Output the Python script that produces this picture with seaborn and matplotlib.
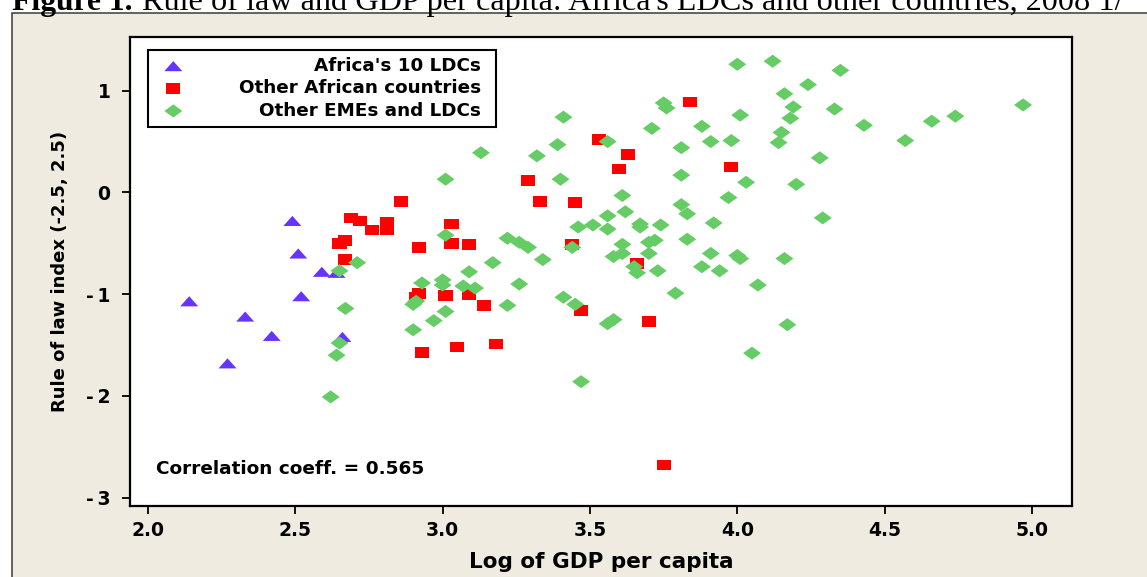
import numpy as np
import pandas as pd
import matplotlib
matplotlib.use("Agg")
import matplotlib.pyplot as plt
from matplotlib.patches import Rectangle
import seaborn as sns

# ---- data: log GDP per capita vs rule-of-law index ----
ldc_x = [2.14, 2.33, 2.42, 2.27, 2.49, 2.51, 2.52, 2.59, 2.64, 2.66]
ldc_y = [-1.07, -1.22, -1.41, -1.68, -0.28, -0.60, -1.02, -0.78, -0.79, -1.42]

afr_x = [2.65, 2.67, 2.67, 2.69, 2.72, 2.76, 2.81, 2.81, 2.86, 2.92, 2.92, 2.91,
         2.93, 3.03, 3.03, 3.09, 3.01, 3.09, 3.14, 3.05, 3.18, 3.29, 3.33, 3.45,
         3.44, 3.47, 3.53, 3.60, 3.63, 3.66, 3.70, 3.84, 3.98, 3.75]
afr_y = [-0.50, -0.47, -0.66, -0.25, -0.28, -0.37, -0.29, -0.37, -0.09, -0.54, -0.99, -1.03,
         -1.57, -0.31, -0.50, -0.51, -1.01, -1.00, -1.11, -1.52, -1.49, 0.12, -0.09, -0.10,
         -0.51, -1.16, 0.52, 0.23, 0.37, -0.70, -1.27, 0.89, 0.25, -2.68]

eme_x = [2.65, 2.71, 2.67, 2.65, 2.64, 2.62,
         3.13, 3.32, 3.01, 3.40, 3.61, 3.01, 3.22, 3.26, 3.29, 3.17, 3.34, 3.09,
         2.93, 3.00, 3.00, 3.07, 3.11, 3.26, 2.90, 2.91, 3.01, 2.97, 2.90, 3.22,
         3.41, 3.45, 3.47, 3.44, 3.46, 3.51, 3.56, 3.56, 3.62, 3.67, 3.67, 3.74,
         3.61, 3.58, 3.61, 3.70, 3.72, 3.70, 3.65, 3.66, 3.73, 3.79, 3.58, 3.56,
         3.75, 3.76, 3.41, 3.71, 3.88, 4.01, 3.91, 3.98, 4.16, 4.19, 4.18, 4.15,
         4.14, 4.24, 4.33, 4.28, 4.20, 4.29, 3.56, 3.39, 3.81, 3.81, 4.03, 3.97,
         3.81, 3.83, 3.92, 3.83, 3.91, 3.88, 3.94, 4.00, 4.01, 4.16, 4.07, 4.17,
         4.05, 4.00, 4.12, 4.35, 4.43, 4.66, 4.74, 4.97, 4.57]
eme_y = [-0.77, -0.69, -1.14, -1.48, -1.60, -2.01,
         0.39, 0.36, 0.13, 0.13, -0.03, -0.42, -0.45, -0.49, -0.54, -0.69, -0.66, -0.78,
         -0.89, -0.86, -0.91, -0.92, -0.94, -0.90, -1.10, -1.07, -1.17, -1.26, -1.35, -1.11,
         -1.03, -1.10, -1.86, -0.54, -0.34, -0.32, -0.23, -0.36, -0.19, -0.31, -0.34, -0.32,
         -0.51, -0.63, -0.60, -0.49, -0.47, -0.60, -0.73, -0.79, -0.77, -0.99, -1.25, -1.29,
         0.88, 0.83, 0.74, 0.63, 0.65, 0.76, 0.50, 0.51, 0.97, 0.84, 0.73, 0.59,
         0.49, 1.06, 0.82, 0.34, 0.08, -0.25, 0.50, 0.47, 0.44, 0.17, 0.10, -0.05,
         -0.12, -0.21, -0.30, -0.46, -0.60, -0.73, -0.77, -0.62, -0.65, -0.65, -0.91, -1.30,
         -1.58, 1.26, 1.29, 1.20, 0.66, 0.70, 0.75, 0.86, 0.51]

groups = ["Africa's 10 LDCs", "Other African countries", "Other EMEs and LDCs"]
x_ticks = [2.0, 2.5, 3.0, 3.5, 4.0, 4.5, 5.0]
x_tick_labels = ["2.0", "2.5", "3.0", "3.5", "4.0", "4.5", "5.0"]
y_ticks = [-3, -2, -1, 0, 1]
y_tick_labels = ["-\u20093", "-\u20092", "-\u20091", "0", "1"]
x_label = "Log of GDP per capita"
y_label = "Rule of law index (-2.5, 2.5)"
corr_text = "Correlation coeff. = 0.565"
title_bold = "Figure 1."
title_rest = "Rule of law and GDP per capita: Africa's LDCs and other countries, 2008 1/"

df = pd.concat([
    pd.DataFrame({"gdp": ldc_x, "rol": ldc_y, "group": groups[0]}),
    pd.DataFrame({"gdp": afr_x, "rol": afr_y, "group": groups[1]}),
    pd.DataFrame({"gdp": eme_x, "rol": eme_y, "group": groups[2]}),
], ignore_index=True)

# ---- styling ----
plt.rcParams["font.family"] = ["DejaVu Sans"]
plt.rcParams["font.weight"] = "bold"

W, H = 1147, 577
fig = plt.figure(figsize=(W / 100, H / 100), dpi=100, facecolor="white")

# beige panel with a thin frame
panel = Rectangle((12 / W, -0.1), 1.2, (H - 13) / H + 0.1, transform=fig.transFigure,
                  facecolor="#EFEBE1", edgecolor="#3a3a3a", linewidth=1.1, zorder=-5)
fig.add_artist(panel)

ax = fig.add_axes([130 / W, 1 - 506 / H, (1072 - 130) / W, (506 - 37) / H])
ax.set_facecolor("white")

# wide, flat marker shapes
tri = np.array([[-1, -0.56], [1, -0.56], [0, 0.56]])
sq = np.array([[-1, -0.76], [1, -0.76], [1, 0.76], [-1, 0.76]])
dia = np.array([[-1, 0], [0, 0.73], [1, 0], [0, -0.73]])

styles = {
    groups[0]: dict(marker=tri, s=168, color="#6633FF"),
    groups[1]: dict(marker=sq, s=104, color="#FF0000"),
    groups[2]: dict(marker=dia, s=168, color="#66CC66"),
}
for z, g in enumerate(groups):
    st = styles[g]
    sns.scatterplot(data=df[df["group"] == g], x="gdp", y="rol", ax=ax,
                    marker=st["marker"], s=st["s"], color=st["color"],
                    edgecolor="none", linewidth=0, label=g, zorder=3 + z, legend=False)

ax.set_xlim(1.939, 5.136)
ax.set_ylim(-3.082, 1.528)
ax.set_xticks(x_ticks)
ax.set_xticklabels(x_tick_labels)
ax.set_yticks(y_ticks)
ax.set_yticklabels(y_tick_labels)
ax.tick_params(axis="both", direction="out", length=6, width=1.3, color="black",
               labelsize=13.5, labelcolor="black")
ax.tick_params(axis="x", pad=5)
ax.tick_params(axis="y", pad=8)
for sp in ax.spines.values():
    sp.set_linewidth(1.6)
    sp.set_color("black")

ax.set_xlabel(x_label, fontsize=15.5, fontweight="bold")
ax.xaxis.set_label_coords(0.5, (506 - 562) / (506 - 37))
ax.xaxis.label.set_va("center")
ax.set_ylabel(y_label, fontsize=13, fontweight="bold")
ax.yaxis.set_label_coords((60 - 130) / (1072 - 130), 0.5)
ax.yaxis.label.set_va("center")

ax.text((156 - 130) / (1072 - 130), (506 - 469) / (506 - 37), corr_text,
        transform=ax.transAxes, ha="left", va="center", fontsize=13.3, fontweight="bold")

handles, labels = ax.get_legend_handles_labels()
leg = ax.legend(handles, labels, loc="upper left",
                bbox_to_anchor=((148 - 130) / 942, (506 - 50) / 469, (496 - 148) / 942, 0),
                mode="expand", borderaxespad=0, borderpad=0.38, labelspacing=0.24,
                handlelength=2.0, handletextpad=1.8, scatterpoints=1,
                prop=dict(family="DejaVu Sans", weight="bold", size=13.2),
                frameon=True, fancybox=False, framealpha=1, edgecolor="black")
leg.get_frame().set_linewidth(1.5)
leg.set_zorder(10)

# title across the top, bold lead-in followed by regular text
t1 = fig.text(12 / W, 1 - 10 / H, title_bold, fontfamily="Liberation Serif",
              fontweight="bold", fontsize=22.8, va="baseline", ha="left")

fig.canvas.draw()
renderer = fig.canvas.get_renderer()
px_per_pt = fig.dpi / 72.0

bb = t1.get_window_extent(renderer)
fig.text((bb.x1 + 9) / W, 1 - 10 / H, title_rest, fontfamily="Liberation Serif",
         fontweight="normal", fontsize=23.2, va="baseline", ha="left")

# right-align legend labels against the frame
frame_bb = leg.get_frame().get_window_extent(renderer)
target_right = frame_bb.x1 - 15
rows = leg._legend_handle_box.get_children()[0].get_children()
for row, txt in zip(rows, leg.get_texts()):
    tb = txt.get_window_extent(renderer)
    row.sep = row.sep + (target_right - tb.x1) / px_per_pt

fig.savefig("out.png", dpi=100, facecolor="white")
